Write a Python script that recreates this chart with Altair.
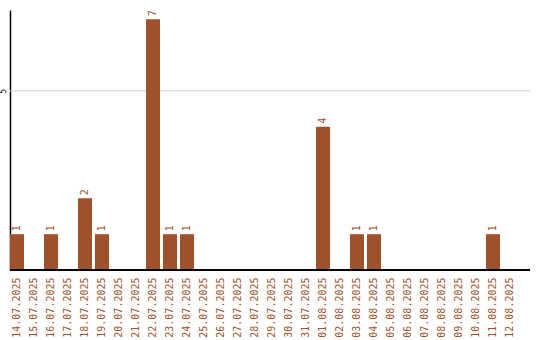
import altair as alt
import pandas as pd

# Daily counts, 14.07.2025 - 12.08.2025
dates = [
    "14.07.2025", "15.07.2025", "16.07.2025", "17.07.2025", "18.07.2025",
    "19.07.2025", "20.07.2025", "21.07.2025", "22.07.2025", "23.07.2025",
    "24.07.2025", "25.07.2025", "26.07.2025", "27.07.2025", "28.07.2025",
    "29.07.2025", "30.07.2025", "31.07.2025", "01.08.2025", "02.08.2025",
    "03.08.2025", "04.08.2025", "05.08.2025", "06.08.2025", "07.08.2025",
    "08.08.2025", "09.08.2025", "10.08.2025", "11.08.2025", "12.08.2025",
]
counts = [1, 0, 1, 0, 2, 1, 0, 0, 7, 1,
          1, 0, 0, 0, 0, 0, 0, 0, 4, 0,
          1, 1, 0, 0, 0, 0, 0, 0, 1, 0]
grid_values = [5]

df = pd.DataFrame({"date": dates, "count": counts})
labelled = df[df["count"] > 0]
grid_df = pd.DataFrame({"g": grid_values})

SIENNA = "#A0522D"
FONT = "DejaVu Sans Mono"

x_enc = alt.X(
    "date:N",
    sort=dates,
    scale=alt.Scale(range=[0, 507], paddingInner=3 / 17, paddingOuter=0),
    axis=alt.Axis(
        title=None, domain=False, ticks=False, labelAngle=270,
        labelAlign="right", labelBaseline="middle", labelPadding=7,
        labelColor=SIENNA, labelFont=FONT, labelFontSize=10,
    ),
)
y_scale = alt.Scale(domain=[0, 7.26], nice=False, zero=True)
y_enc = alt.Y(
    "count:Q",
    scale=y_scale,
    axis=alt.Axis(
        title=None, values=grid_values, ticks=False, grid=False,
        domainColor="black", labelAngle=270, labelAlign="center",
        labelBaseline="bottom", labelPadding=3, labelFont=FONT,
        labelFontSize=8, labelColor="black",
    ),
)

# horizontal guide lines across the full plot width
grid = alt.Chart(grid_df).mark_rule(color="#cccccc", strokeWidth=1).encode(
    x=alt.value(0), x2=alt.value(520), y=alt.Y("g:Q", scale=y_scale)
)

bars = alt.Chart(df).mark_bar(color=SIENNA).encode(x=x_enc, y=y_enc)

values = alt.Chart(labelled).mark_text(
    angle=270, align="left", baseline="middle", dx=3,
    color=SIENNA, font=FONT, fontSize=10,
).encode(x=alt.X("date:N", sort=dates), y=alt.Y("count:Q"), text="count:Q")

baseline = alt.Chart(df).mark_rule(color="black", strokeWidth=1.5).encode(
    x=alt.value(0), x2=alt.value(520), y=alt.value(260)
)

chart = (
    alt.layer(grid, bars, values, baseline)
    .properties(
        width=520, height=260,
        autosize=alt.AutoSizeParams(type="none"),
        padding={"left": 10, "top": 10, "right": 10, "bottom": 70},
    )
    .configure_view(stroke=None)
    .configure_axis(domainWidth=1.5)
)

chart.save("out.html", embed_options={"renderer": "svg", "actions": False})
